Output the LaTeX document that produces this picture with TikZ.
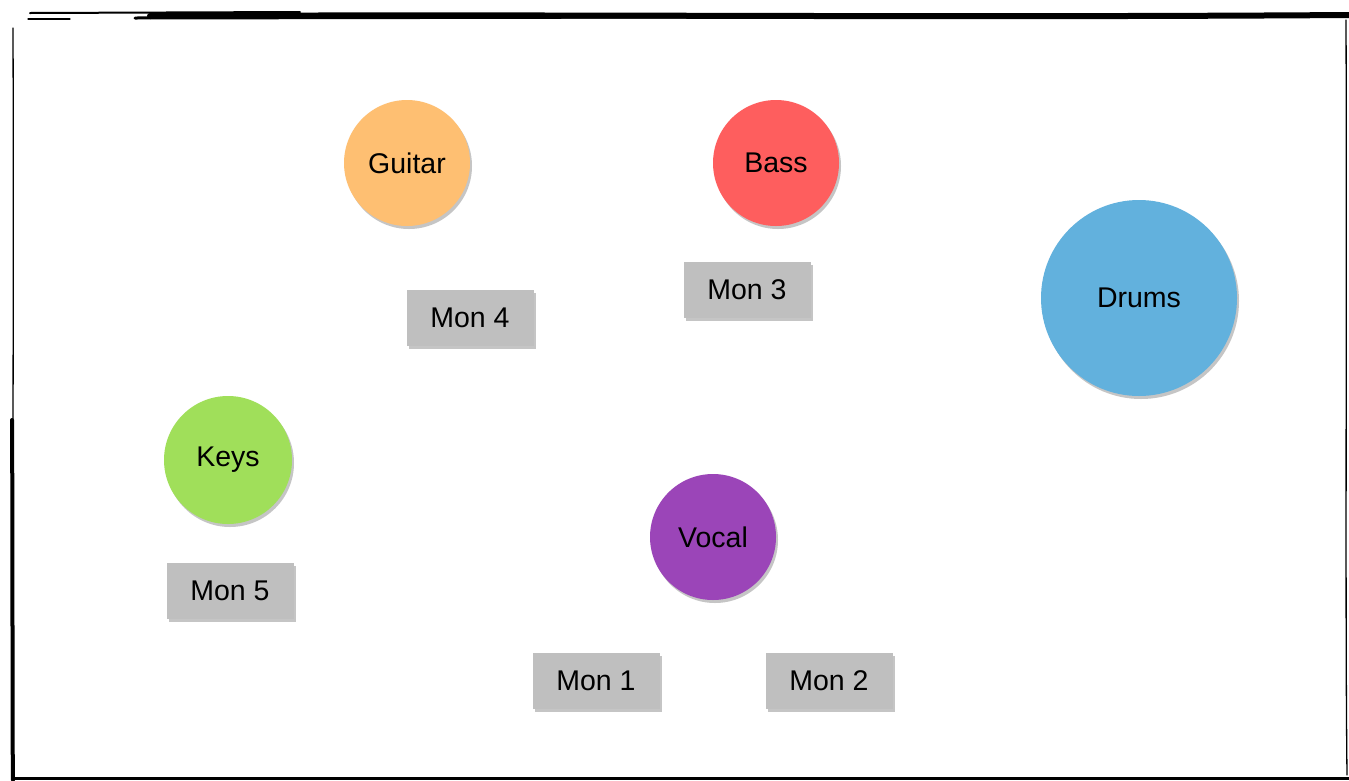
\documentclass[tikz,border=0pt]{standalone}
\usepackage{fontspec}
\setmainfont{Liberation Sans}
\usetikzlibrary{shadows}
\definecolor{cguitar}{HTML}{FEBF72}
\definecolor{cbass}{HTML}{FE5E5E}
\definecolor{cdrums}{HTML}{62B1DD}
\definecolor{ckeys}{HTML}{A0DF5A}
\definecolor{cvocal}{HTML}{9B45B8}
\definecolor{cmon}{HTML}{BFBFBF}
\tikzset{
  inst/.style={circle, inner sep=0pt, font=\fontsize{28.5}{32}\selectfont,
    drop shadow={opacity=0.45, shadow xshift=2pt, shadow yshift=-3pt}},
  mon/.style={rectangle, fill=cmon, inner sep=0pt, minimum width=127pt, minimum height=56pt,
    font=\fontsize{28.5}{32}\selectfont,
    drop shadow={opacity=0.45, shadow xshift=2pt, shadow yshift=-3pt}},
  sketch/.style={black, line cap=round}
}
\begin{document}
\begin{tikzpicture}[x=1pt,y=-1pt]
\useasboundingbox (0,0) rectangle (1349,780);
\fill[white] (0,0) rectangle (1349,780);
% sketchy frame
\draw[sketch, line width=6pt] (150,16) .. controls (600,14) and (900,18) .. (1349,15);
\draw[sketch, line width=2pt] (30,13) -- (300,12);
\draw[sketch, line width=1.2pt] (28,19) -- (70,19);
\draw[sketch, line width=3pt] (135,18) -- (700,17);
\draw[sketch, line width=1.3pt] (13,28) .. controls (14,300) and (12,600) .. (13,780);
\draw[sketch, line width=4pt] (12,420) .. controls (13,600) and (12,700) .. (13,780);
\draw[sketch, line width=1.3pt] (1346,20) .. controls (1347,300) and (1345,600) .. (1347,775);
\draw[sketch, line width=3pt] (15,778) -- (1349,778);
% instruments
\node[inst, fill=cguitar, minimum size=126pt] (guitar) at (407,163) {Guitar};
\node[inst, fill=cbass, minimum size=126pt] (bass) at (776,163) {Bass};
\node[inst, fill=cdrums, minimum size=196pt] (drums) at (1139,298) {Drums};
\node[inst, fill=ckeys, minimum size=128pt] (keys) at (228,460) {Keys};
\node[inst, fill=cvocal, minimum size=126pt] (vocal) at (713,537) {Vocal};
% monitors
\node[mon] (mon4) at (470,318) {Mon 4};
\node[mon] (mon3) at (747,290) {Mon 3};
\node[mon] (mon5) at (230,591) {Mon 5};
\node[mon] (mon1) at (596,681) {Mon 1};
\node[mon] (mon2) at (829,681) {Mon 2};
\end{tikzpicture}
\end{document}
